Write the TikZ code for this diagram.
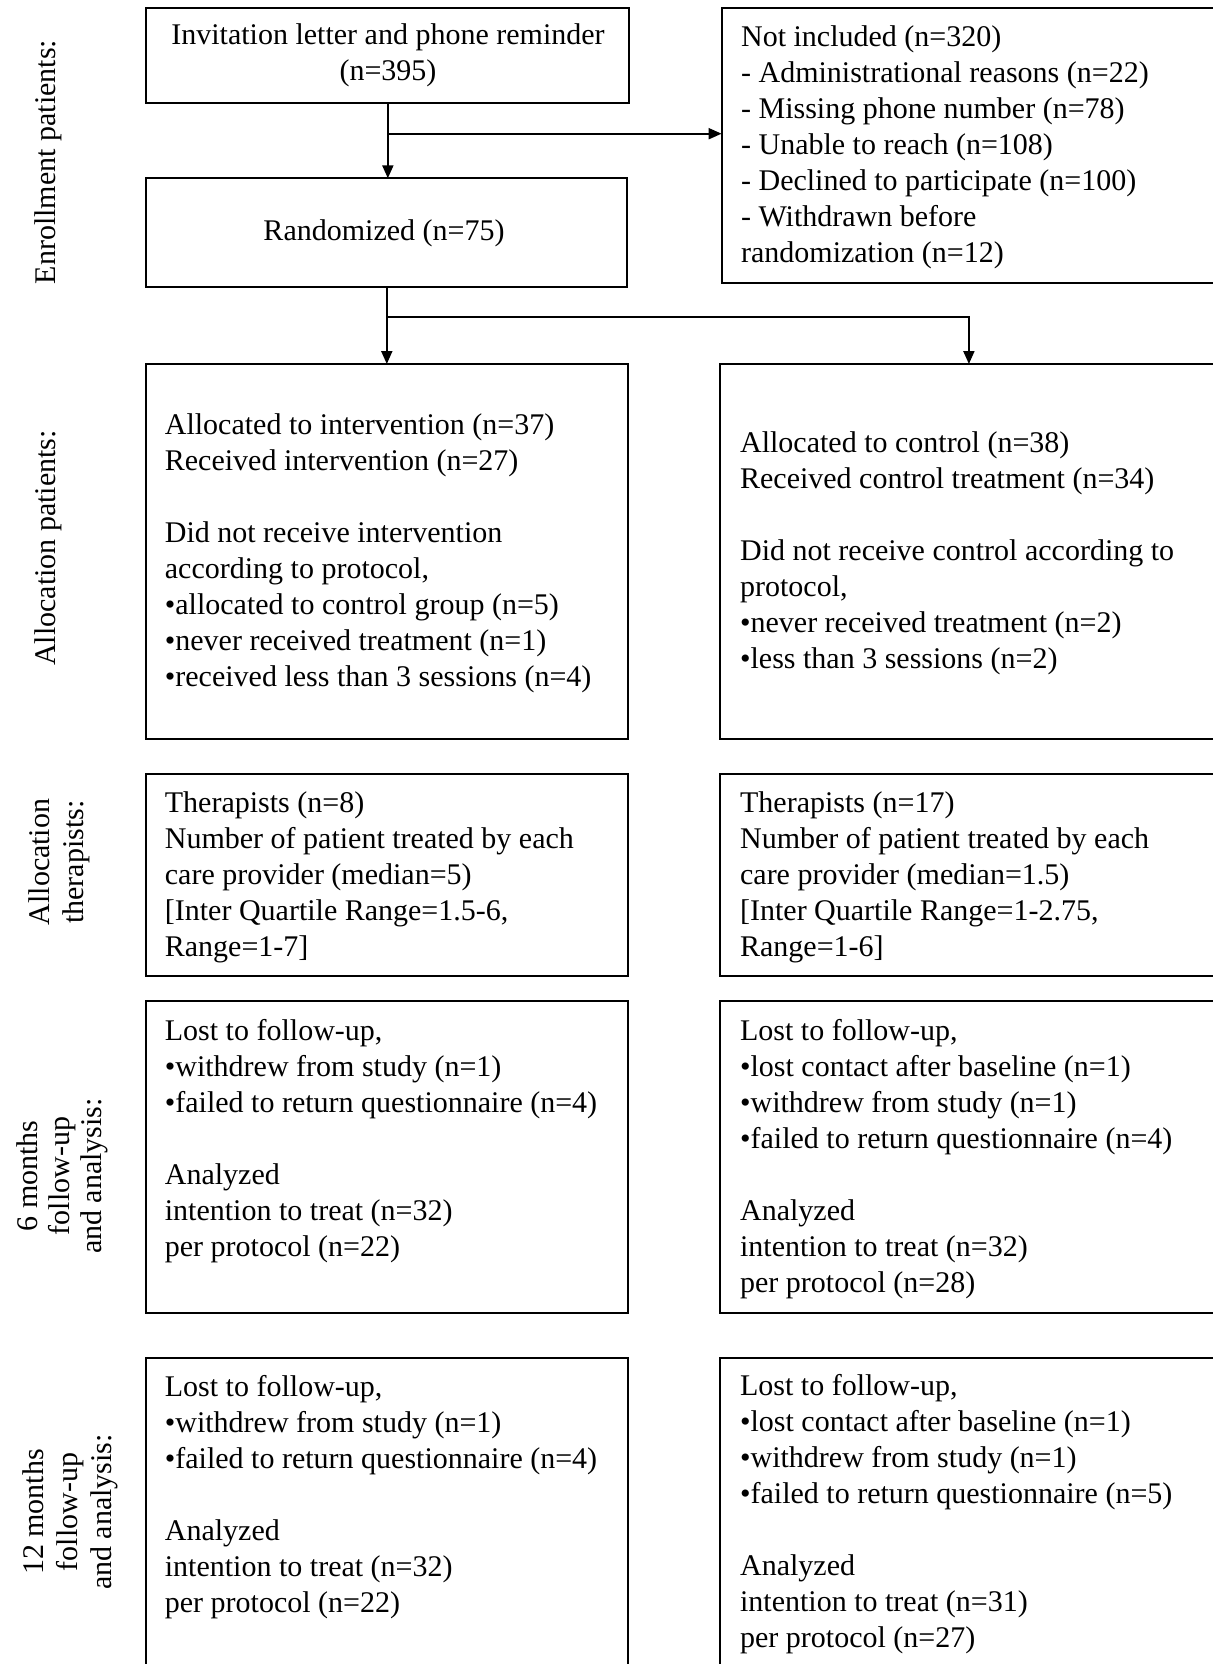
\documentclass[tikz,border=0pt]{standalone}
\usepackage{fontspec}
\setmainfont{Liberation Serif}
\usetikzlibrary{arrows.meta}
\begin{document}
\begin{tikzpicture}[x=0.5pt,y=-0.5pt,
  box/.style={draw,line width=1pt,inner sep=0pt,outer sep=0pt,rectangle},
  txt/.style={inner sep=0pt,align=left,anchor=north west,font=\fontsize{15}{18}\selectfont},
  ctxt/.style={inner sep=0pt,align=center,font=\fontsize{15}{18}\selectfont},
  side/.style={inner sep=0pt,align=center,rotate=90,font=\fontsize{15}{17}\selectfont},
  arr/.style={line width=1pt,-{Triangle[length=6.5pt,width=5.5pt]}},
  ln/.style={line width=1pt}]
\useasboundingbox (0,0) rectangle (1213,1664);
\clip (0,0) rectangle (1213,1664);
\fill[white] (0,0) rectangle (1213,1664);

% boxes
\node[box,minimum width=241.45pt,minimum height=47.25pt] (A) at (387.85,55.75) {};
\node[box,minimum width=269.2pt,minimum height=137.4pt] (NI) at (990.8,145.9) {};
\node[box,minimum width=240.4pt,minimum height=54.1pt] (R) at (386.8,232.4) {};
\node[box,minimum width=240.9pt,minimum height=187.3pt] (AL) at (387.3,551.3) {};
\node[box,minimum width=270.25pt,minimum height=187.3pt] (AR) at (989.75,551.3) {};
\node[box,minimum width=240.9pt,minimum height=101.35pt] (TL) at (387.3,874.95) {};
\node[box,minimum width=270.25pt,minimum height=101.35pt] (TR) at (989.75,874.95) {};
\node[box,minimum width=240.9pt,minimum height=156pt] (FL) at (387.3,1156.7) {};
\node[box,minimum width=270.25pt,minimum height=156pt] (FR) at (989.75,1156.7) {};
\node[box,minimum width=240.9pt,minimum height=170.85pt] (WL) at (387.3,1529.15) {};
\node[box,minimum width=270.25pt,minimum height=170.85pt] (WR) at (989.75,1529.15) {};

% texts
\node[ctxt] (tA) at (388,55) {Invitation letter and phone reminder\\(n=395)};
\node[ctxt] (tR) at (384,233.5) {Randomized (n=75)};
\node[txt] (tNI) at (740.7,25.5) {Not included (n=320)\\- Administrational reasons (n=22)\\- Missing phone number (n=78)\\- Unable to reach (n=108)\\- Declined to participate (n=100)\\- Withdrawn before\\randomization (n=12)};
\node[txt] (tAL) at (164.5,413) {Allocated to intervention (n=37)\\Received intervention (n=27)\\[18pt]Did not receive intervention\\according to protocol,\\•allocated to control group (n=5)\\•never received treatment (n=1)\\•received less than 3 sessions (n=4)};
\node[txt] (tAR) at (739.7,431) {Allocated to control (n=38)\\Received control treatment (n=34)\\[18pt]Did not receive control according to\\protocol,\\•never received treatment (n=2)\\•less than 3 sessions (n=2)};
\node[txt] (tTL) at (164.5,791.7) {Therapists (n=8)\\Number of patient treated by each\\care provider (median=5)\\{[}Inter Quartile Range=1.5-6,\\Range=1-7]};
\node[txt] (tTR) at (739.7,791.7) {Therapists (n=17)\\Number of patient treated by each\\care provider (median=1.5)\\{[}Inter Quartile Range=1-2.75,\\Range=1-6]};
\node[txt] (tFL) at (164.5,1018.8) {Lost to follow-up,\\•withdrew from study (n=1)\\•failed to return questionnaire (n=4)\\[18pt]Analyzed\\intention to treat (n=32)\\per protocol (n=22)};
\node[txt] (tFR) at (739.7,1018.8) {Lost to follow-up,\\•lost contact after baseline (n=1)\\•withdrew from study (n=1)\\•failed to return questionnaire (n=4)\\[18pt]Analyzed\\intention to treat (n=32)\\per protocol (n=28)};
\node[txt] (tWL) at (164.5,1375.4) {Lost to follow-up,\\•withdrew from study (n=1)\\•failed to return questionnaire (n=4)\\[18pt]Analyzed\\intention to treat (n=32)\\per protocol (n=22)};
\node[txt] (tWR) at (739.7,1374.4) {Lost to follow-up,\\•lost contact after baseline (n=1)\\•withdrew from study (n=1)\\•failed to return questionnaire (n=5)\\[18pt]Analyzed\\intention to treat (n=31)\\per protocol (n=27)};

% side labels
\node[side] (L1) at (47.8,162) {Enrollment patients:};
\node[side] (L2) at (47.8,548) {Allocation patients:};
\node[side] (L3) at (59,862) {Allocation\\therapists:};
\node[side,font=\fontsize{15}{16}\selectfont] (L4) at (62.6,1176) {6 months\\follow-up\\and analysis:};
\node[side] (L5) at (70,1512) {12 months\\follow-up\\and analysis:};

% connectors
\coordinate (b1) at (388.4,133.7);
\coordinate (b2) at (388.4,317.3);
\coordinate (c2) at (968.9,364);
\draw[arr] (A.south) -- (A.south |- R.north);
\draw[arr] (b1) -- (b1 -| NI.west);
\draw[arr] (R.south) -- (R.south |- AL.north);
\draw[arr] (b2) -| (c2);
\end{tikzpicture}
\end{document}
